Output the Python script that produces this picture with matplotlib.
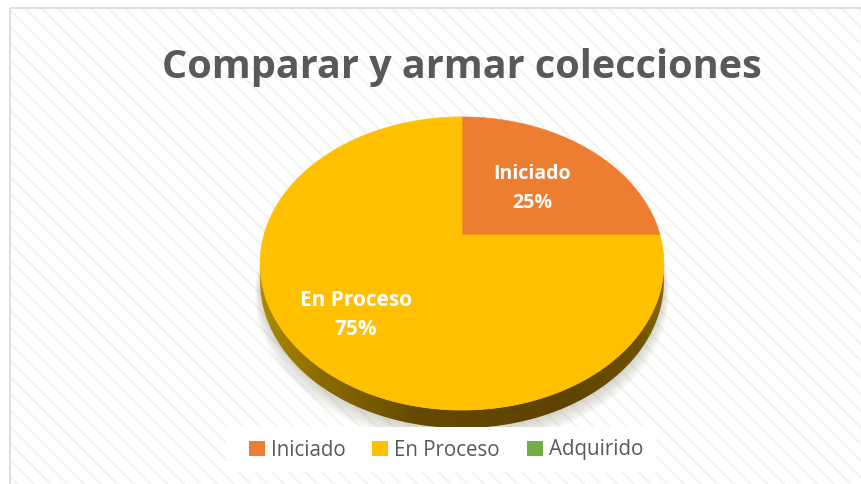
import numpy as np
import matplotlib
matplotlib.use("Agg")
import matplotlib.pyplot as plt
from matplotlib.patches import Polygon, Rectangle, Patch
from matplotlib.colors import to_rgb

# Datos
categorias = ["Iniciado", "En Proceso", "Adquirido"]
valores = [25, 75, 0]
colores = ["#ED7D31", "#FFC000", "#70AD47"]
titulo = "Comparar y armar colecciones"

W, H = 861, 484
fig = plt.figure(figsize=(W / 100, H / 100), dpi=100)
ax = fig.add_axes([0, 0, 1, 1])
ax.set_xlim(0, W)
ax.set_ylim(H, 0)
ax.axis("off")

# Fondo con rayas diagonales
plt.rcParams["hatch.linewidth"] = 1.6
ax.add_patch(Rectangle((10, 8), W, H, facecolor="white", edgecolor="#f3f3f3",
                       hatch="\\\\", linewidth=0, zorder=0))
ax.add_patch(Rectangle((10, 8), W, H, facecolor="none", edgecolor="#d9d9d9",
                       linewidth=1.2, zorder=1))

# Proyección en perspectiva del disco
cx, cy, sx, sy, k = 462, 235, 198, 141, 0.1945
grosor = 18


def proj(x, y, dy=0.0):
    w = 1 + k * y
    return cx + sx * x / w, cy - sy * y / w + dy


def arco(t0, t1, n=200, dy=0.0, escala=1.0):
    t = np.radians(np.linspace(t0, t1, n))
    X, Y = proj(escala * np.cos(t), escala * np.sin(t), dy)
    return np.column_stack([X, Y])


# Sombra suave debajo
for i in range(7):
    pts = arco(0, 360, dy=grosor + 3 + 1.5 * i, escala=1.0 + 0.004 * i)
    ax.add_patch(Polygon(pts, closed=True, facecolor="#8f8a72",
                         edgecolor="none", alpha=0.05, zorder=2))

# Lateral del cilindro con degradado
t_izq = 180 + np.degrees(np.arcsin(k))
t_der = 360 - np.degrees(np.arcsin(k))
sup = arco(t_izq, t_der)
inf = arco(t_der, t_izq, dy=grosor)
lado = Polygon(np.vstack([sup, inf]), closed=True, facecolor="none",
               edgecolor="none", zorder=3)
ax.add_patch(lado)
paradas = [(0.0, "#b08c00"), (0.15, "#8c6c00"), (0.4, "#634900"),
           (0.75, "#5e4400"), (0.93, "#6d5100"), (1.0, "#8a6c05")]
xs = np.linspace(0, 1, 400)
rgb = np.array([to_rgb(c) for _, c in paradas])
pos = [p for p, _ in paradas]
grad = np.stack([np.interp(xs, pos, rgb[:, j]) for j in range(3)], axis=-1)
im = ax.imshow(grad[None, :, :], extent=[cx - 205, cx + 205, 440, 250],
               aspect="auto", zorder=3)
im.set_clip_path(lado)
ax.set_xlim(0, W)
ax.set_ylim(H, 0)

# Porciones de la cara superior
total = sum(valores)
inicio = 90.0
for v, c in zip(valores, colores):
    if v <= 0:
        continue
    fin = inicio - 360.0 * v / total
    pts = np.vstack([[proj(0, 0)], arco(inicio, fin)])
    ax.add_patch(Polygon(pts, closed=True, facecolor=c, edgecolor=c,
                         linewidth=0.5, zorder=4))
    inicio = fin


def ajustar(txt, ancho):
    fig.canvas.draw()
    bb = txt.get_window_extent()
    txt.set_fontsize(txt.get_fontsize() * ancho / bb.width)


# Título
t = ax.text(462, 78, titulo, ha="center", va="baseline", fontsize=30,
            fontweight="bold", family="Open Sans", color="#595959", zorder=6)
ajustar(t, 600)

# Etiquetas de datos
etiquetas = [(532, 179, 208, 78), (356, 306, 335, 113)]
vis = [(cat, v) for cat, v in zip(categorias, valores) if v > 0]
for (cat, v), (x, y1, y2, ancho) in zip(vis, etiquetas):
    a = ax.text(x, y1, cat, ha="center", va="baseline", fontsize=14,
                fontweight="bold", family="Open Sans", color="white", zorder=6)
    ajustar(a, ancho)
    ax.text(x, y2, f"{round(100 * v / total)}%", ha="center", va="baseline",
            fontsize=a.get_fontsize(), fontweight="bold", family="Open Sans",
            color="white", zorder=6)

# Leyenda
ax.add_patch(Rectangle((227, 427), 429, 45, facecolor="white",
                       edgecolor="none", zorder=6))
prueba = ax.text(0, 0, "Iniciado", fontsize=10, family="Open Sans")
fig.canvas.draw()
fs = 10 * 75 / prueba.get_window_extent().width
prueba.remove()
handles = [Patch(facecolor=c, edgecolor="none") for c in colores]
leg = ax.legend(handles, categorias, loc="center", ncol=3,
                bbox_to_anchor=(446 / W, 1 - 450 / H),
                prop={"family": "Open Sans", "size": fs},
                handlelength=0.78, handleheight=0.78, handletextpad=0.3,
                columnspacing=1.3, frameon=False)
leg.set_zorder(7)
for tx in leg.get_texts():
    tx.set_color("#595959")

fig.savefig("out.png", dpi=100)
